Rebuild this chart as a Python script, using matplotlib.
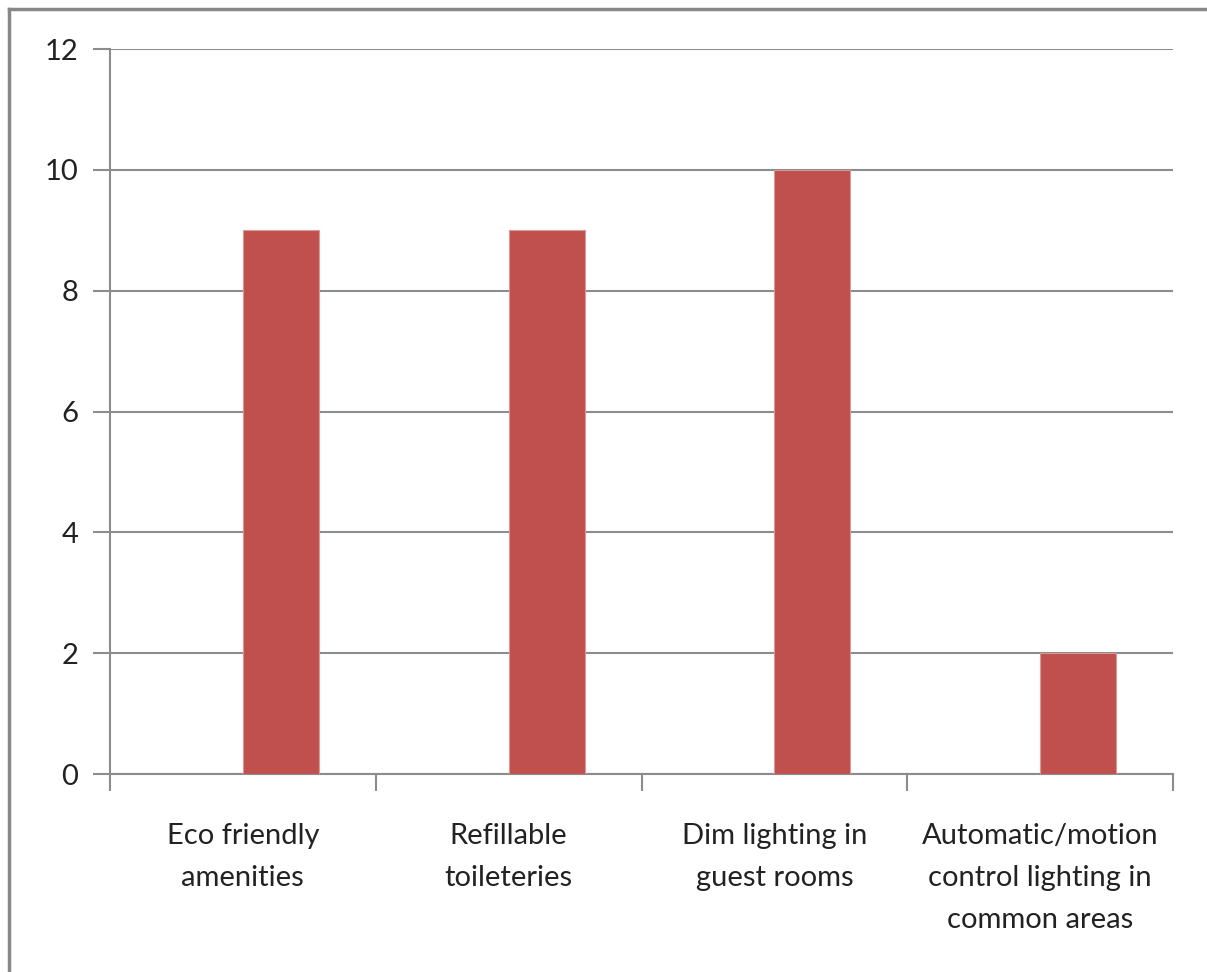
import matplotlib.pyplot as plt
import numpy as np

categories = ["Eco friendly\namenities", "Refillable\ntoileteries",
              "Dim lighting in\nguest rooms",
              "Automatic/motion\ncontrol lighting in\ncommon areas"]
values = [9, 9, 10, 2]
yticks = [0, 2, 4, 6, 8, 10, 12]

plt.rcParams['font.family'] = ['Lato', 'DejaVu Sans']

grey = '#8c8c8c'
bar_color = '#c0504d'

fig = plt.figure(figsize=(12.07, 9.72), dpi=100)
ax = fig.add_axes([110/1207, 198/972, 1063/1207, 725/972])

x = np.arange(len(categories))
# excel style: empty first series, so the bar sits right of centre
ax.bar(x, values, width=1/3.5, align='edge', color=bar_color,
       edgecolor='#d99795', linewidth=0.8, zorder=3)

ax.set_xlim(-0.5, len(categories) - 0.5)
ax.set_ylim(0, 12)
ax.set_yticks(yticks)
ax.yaxis.grid(True, color=grey, linewidth=1.5, zorder=0)

ax.set_xticks(np.arange(-0.5, len(categories)), minor=False)
ax.set_xticklabels([])
ax.set_xticks(x, minor=True)
ax.set_xticklabels(categories, minor=True, fontsize=21, color='#222222',
                   linespacing=1.78)
ax.tick_params(axis='x', which='major', length=12, width=1.5, color=grey,
               direction='out')
ax.tick_params(axis='x', which='minor', length=0, pad=35)
ax.tick_params(axis='y', length=12, width=1.5, color=grey, pad=11,
               labelsize=21, labelcolor='#222222')

for side in ['top', 'right']:
    ax.spines[side].set_visible(False)
for side in ['left', 'bottom']:
    ax.spines[side].set_color(grey)
    ax.spines[side].set_linewidth(1.5)

# chart frame, only top and left edges fall inside the image
fig.add_artist(plt.Line2D([9/1207, 9/1207], [0, 1 - 9/972], color='#888888',
                          linewidth=2.5, transform=fig.transFigure))
fig.add_artist(plt.Line2D([9/1207, 1], [1 - 9/972, 1 - 9/972], color='#888888',
                          linewidth=2.5, transform=fig.transFigure))

fig.savefig('out.png', dpi=100)
